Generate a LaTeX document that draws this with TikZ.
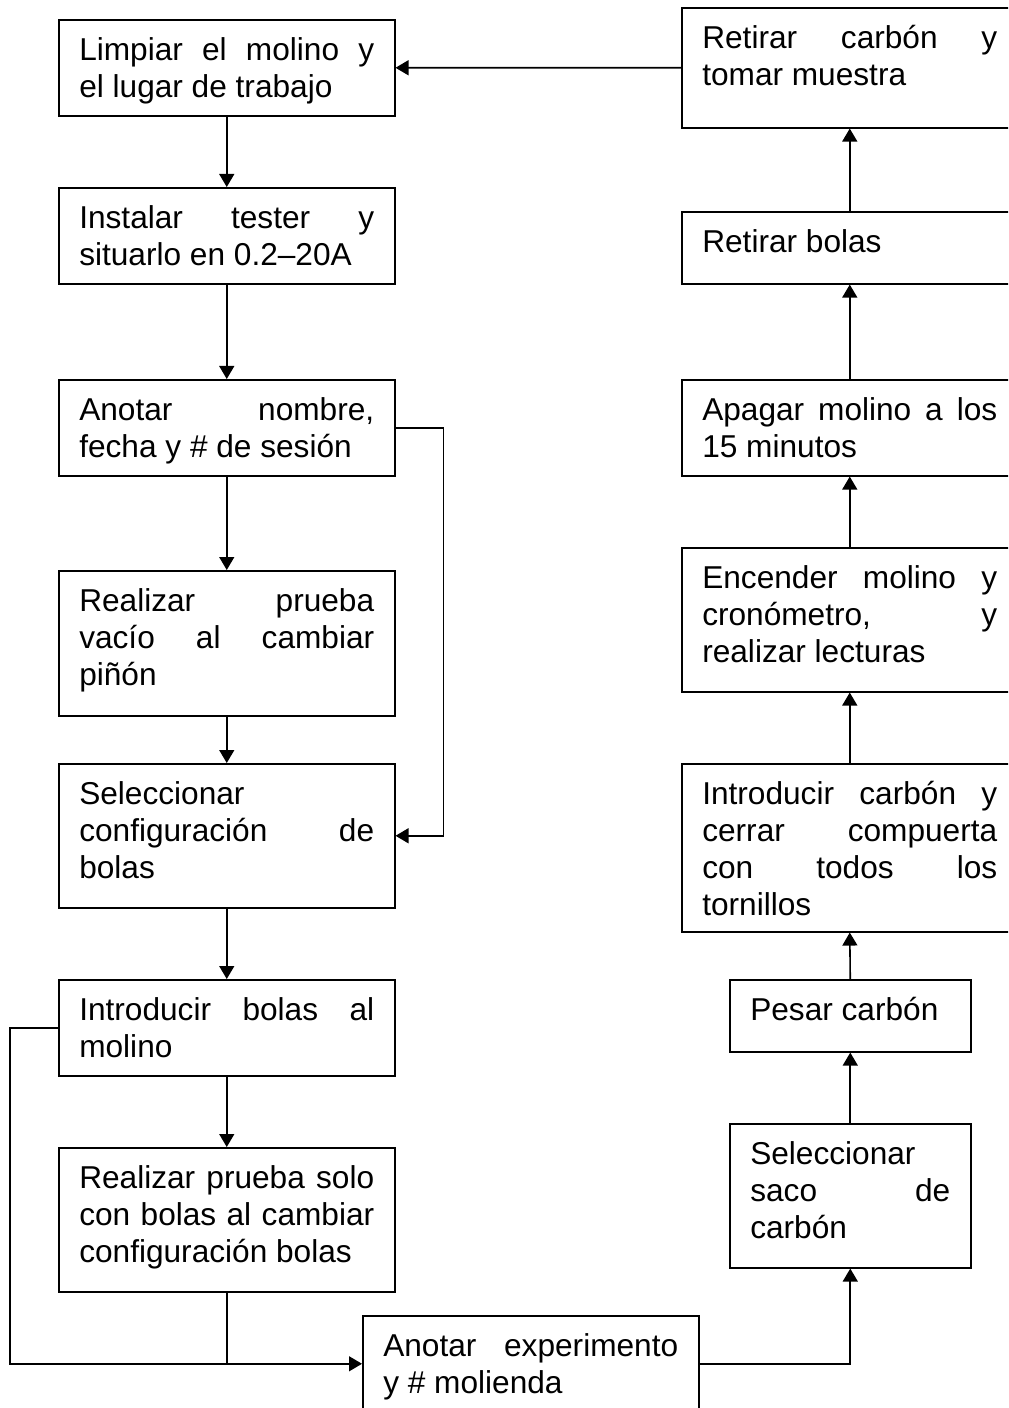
\documentclass[tikz,border=0pt]{standalone}
\usepackage{fontspec}
\setmainfont{Liberation Sans}
\usetikzlibrary{arrows.meta}
\newcommand{\steptxt}[3][5.9cm]{\parbox[t][#2][t]{#1}{\rule{0pt}{1em}#3}}

\begin{document}
\begin{tikzpicture}[x=0.02cm,y=-0.02cm,line width=0.9pt,
  stepbox/.style={draw,anchor=north west,inner xsep=0.41cm,inner ysep=0.19cm,
    font=\fontsize{18pt}{20.9pt}\selectfont},
  flow/.style={-{Triangle[length=7.4pt,width=8.5pt]}}]
\useasboundingbox (0,0) rectangle (1008,1408);
\clip (0,0) rectangle (1008,1408);

\node[stepbox] (limpiar) at (58,19) {\steptxt{1.54cm}{Limpiar el molino y\linebreak el lugar de trabajo}};
\node[stepbox] (tester) at (58,187) {\steptxt{1.54cm}{Instalar tester y\linebreak situarlo en 0.2--20A}};
\node[stepbox] (sesion) at (58,379) {\steptxt{1.54cm}{Anotar nombre,\linebreak fecha y \# de sesión}};
\node[stepbox] (vacio) at (58,570) {\steptxt{2.52cm}{Realizar prueba\linebreak vacío al cambiar\linebreak piñón}};
\node[stepbox] (config) at (58,763) {\steptxt{2.50cm}{Seleccionar\newline configuración de\linebreak bolas}};
\node[stepbox] (bolas) at (58,979) {\steptxt{1.54cm}{Introducir bolas al\linebreak molino}};
\node[stepbox] (soloBolas) at (58,1147) {\steptxt{2.50cm}{Realizar prueba solo\linebreak con bolas al cambiar\linebreak configuración bolas}};
\node[stepbox] (experimento) at (362,1315) {\steptxt{1.54cm}{Anotar experimento\linebreak y \# molienda}};

\node[stepbox] (muestra) at (681,7) {\steptxt{2.02cm}{Retirar carbón y\linebreak tomar muestra}};
\node[stepbox] (retBolas) at (681,211) {\steptxt{1.06cm}{Retirar bolas}};
\node[stepbox] (apagar) at (681,379) {\steptxt{1.54cm}{Apagar molino a los\linebreak 15 minutos}};
\node[stepbox] (encender) at (681,547) {\steptxt{2.50cm}{Encender molino y\linebreak cronómetro, y\linebreak realizar lecturas}};
\node[stepbox] (carbon) at (681,763) {\steptxt{2.98cm}{Introducir carbón y\linebreak cerrar compuerta\linebreak con todos los\linebreak tornillos}};
\node[stepbox] (pesar) at (729,979) {\steptxt[4.0cm]{1.06cm}{Pesar carbón}};
\node[stepbox] (saco) at (729,1123) {\steptxt[4.0cm]{2.50cm}{Seleccionar\newline saco de\linebreak carbón}};

\draw[flow] (limpiar.south) -- (tester.north);
\draw[flow] (tester.south) -- (sesion.north);
\draw[flow] (sesion.south) -- (vacio.north);
\draw[flow] (vacio.south) -- (config.north);
\draw[flow] (config.south) -- (bolas.north);
\draw[flow] (bolas.south) -- (soloBolas.north);
\draw[flow] (sesion.east) -- ++(48,0) |- (config.east);
\draw[flow] (bolas.west) -- ++(-48,0) |- (experimento.west);
\draw (soloBolas.south) -- (soloBolas.south |- experimento.west);

\draw[flow] (experimento.east) -| (saco.south);
\draw[flow] (saco.north) -- (pesar.south);
\draw[flow] (pesar.north) -- (carbon.south);
\draw[flow] (carbon.north) -- (encender.south);
\draw[flow] (encender.north) -- (apagar.south);
\draw[flow] (apagar.north) -- (retBolas.south);
\draw[flow] (retBolas.north) -- (muestra.south);
\draw[flow] (muestra.west) -- (limpiar.east);
\end{tikzpicture}
\end{document}
